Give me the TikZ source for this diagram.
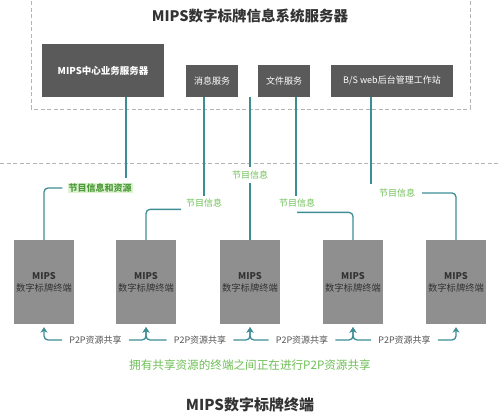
\documentclass[tikz,border=0pt]{standalone}
\usepackage{fontspec}
\setmainfont{Noto Sans CJK SC}
\usetikzlibrary{arrows.meta}
\definecolor{srv}{HTML}{5A5A5A}
\definecolor{term}{HTML}{8F8F8F}
\definecolor{tealline}{HTML}{3C8D94}
\definecolor{dashg}{HTML}{B4B4B4}
\definecolor{lgreen}{HTML}{6DBE55}
\definecolor{dgreen}{HTML}{4E9A3C}
\definecolor{hlgreen}{HTML}{DDF2D0}
\definecolor{txtgray}{HTML}{555555}
\definecolor{darktxt}{HTML}{333333}
\begin{document}
\begin{tikzpicture}[x=1pt,y=-1pt,
  srvbox/.style={fill=srv,text=white,inner sep=0pt,font=\fontsize{9}{10}\selectfont},
  termbox/.style={fill=term,text=darktxt,inner sep=0pt,minimum width=60pt,minimum height=84pt,align=center,font=\fontsize{9.3}{12}\selectfont},
  dashline/.style={draw=dashg,line width=0.8pt,dash pattern=on 4pt off 2.5pt},
  conn/.style={draw=tealline,line width=1.3pt,rounded corners=4pt},
  arr/.style={conn,-{Stealth[length=5.5pt,width=7pt]}},
  infolab/.style={text=lgreen,inner sep=1pt,font=\fontsize{9}{10}\selectfont},
  p2plab/.style={text=txtgray,inner sep=1pt,font=\fontsize{9}{10}\selectfont}
]
\useasboundingbox (0,0) rectangle (500,419);
% server area
\draw[dashline] (31,-5) rectangle (470,109);
\node[font=\bfseries\fontsize{14.5}{16}\selectfont,text=darktxt] (title) at (250,16) {MIPS数字标牌信息系统服务器};
\node[srvbox,minimum width=122pt,minimum height=53pt,font=\bfseries\fontsize{9.5}{10}\selectfont] (srv1) at (103,70.5) {MIPS中心业务服务器};
\node[srvbox,minimum width=52pt,minimum height=32pt] (msg) at (212,81) {消息服务};
\node[srvbox,minimum width=52pt,minimum height=32pt] (file) at (284,81) {文件服务};
\node[srvbox,minimum width=122pt,minimum height=32pt] (bs) at (392,81) {B/S web后台管理工作站};
% separator
\draw[dashline] (0,163) -- (500,163);
% terminals
\foreach \n/\x in {1/44,2/146,3/250,4/353,5/456}{
  \node[termbox] (t\n) at (\x,282) {\textbf{MIPS}\\数字标牌终端};
}
% start points of connectors
\coordinate (o1) at (126,97);
\coordinate (o2) at (204,97);
\coordinate (o3) at (250,97);
\coordinate (o4) at (296,97);
\coordinate (o5) at (371,97);
% labels
\node[infolab,text=dgreen,fill=hlgreen,font=\bfseries\fontsize{9}{10}\selectfont] (lab1) at (100,188) {节目信息和资源};
\node[infolab] (lab2) at (204,203) {节目信息};
\node[infolab] (lab3) at (250,175) {节目信息};
\node[infolab] (lab4) at (297,203) {节目信息};
\node[infolab] (lab5) at (397,193) {节目信息};
% connectors
\draw[conn,shorten >=4pt] (o1) -- (o1 |- lab1.north);
\draw[conn] ([xshift=-5pt]lab1.west) -| (t1.north);
\draw[conn,shorten >=2pt] (o2) -- (o2 |- lab2.north);
\draw[conn] ([xshift=-4pt,yshift=-1pt]lab2.south west) -| (t2.north);
\draw[conn,shorten >=3pt] (o3) -- (o3 |- lab3.north);
\draw[conn,shorten <=3pt] (lab3.south) -- (t3.north);
\draw[conn,shorten >=2pt] (o4) -- (o4 |- lab4.north);
\draw[conn] ([yshift=-4pt]lab4.south) -| (t4.north);
\draw[conn,shorten >=4pt] (o5) -- (o5 |- lab5.north);
\draw[conn] ([xshift=6pt]lab5.east) -| (t5.north);
% P2P sharing
\foreach \n/\x/\a/\b in {1/95.5/1/2,2/200/2/3,3/302/3/4,4/404.5/4/5}{
  \node[p2plab] (p\n) at (\x,340) {P2P资源共享};
  \draw[arr] ([xshift=-6pt]p\n.west) -| ([yshift=-3pt]t\a.south);
  \draw[arr] ([xshift=6pt]p\n.east) -| ([yshift=-3pt]t\b.south);
}
\node[text=lgreen,font=\fontsize{11.6}{12}\selectfont] (note) at (250,365) {拥有共享资源的终端之间正在进行P2P资源共享};
\node[font=\bfseries\fontsize{15}{16}\selectfont,text=darktxt] (bottomtitle) at (250,405) {MIPS数字标牌终端};
\end{tikzpicture}
\end{document}
